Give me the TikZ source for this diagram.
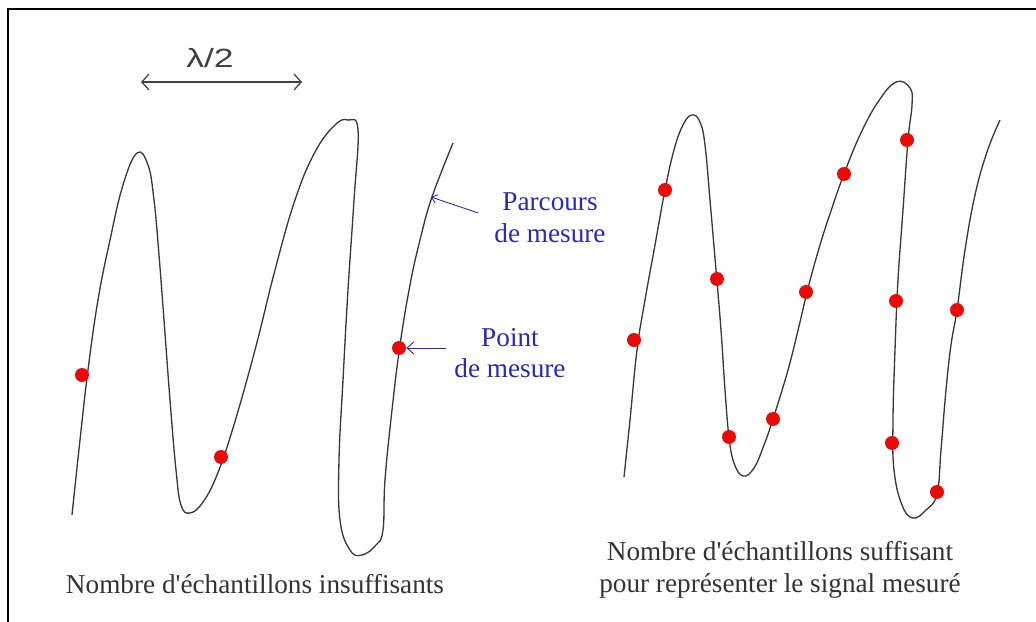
\documentclass[tikz,border=0pt]{standalone}
\usepackage{fontspec}
\setmainfont{Liberation Serif}
\newfontfamily\lamfont{Liberation Sans}
\usepackage{tikz}
\usetikzlibrary{
  arrows.meta,
  positioning
}
\definecolor{notblue}{RGB}{40,40,190}
\definecolor{dotred}{RGB}{235,10,10}

\begin{document}
\begin{tikzpicture}[
  x=0.02cm, y=-0.02cm,
  font=\fontsize{15.5}{18}\selectfont,
  %% ── styles ──────────────────────────────────────────────────────────
  %% Hand-drawn measuring path
  trace/.style={draw=black!78, line width=0.75pt, smooth, tension=0.7},
  %% Red sample points
  dot/.style  ={circle, fill=dotred, inner sep=0pt, minimum size=0.28cm},
  %% Blue annotations
  note/.style ={-{Straight Barb[length=4pt,width=7pt]}, notblue, line width=0.5pt},
  ntxt/.style ={text=notblue, align=center},
  %% Caption under each curve
  captxt/.style={align=center, text=black!80},
]

\useasboundingbox (0,0) rectangle (1036,622);

%% frame (only top and left edges show)
\draw[line width=1.7pt] (8,622) -- (8,9) -- (1036,9);

%% ════════════════════════════════════════════════════════════════════
%% LEFT  (too few samples)
%% ════════════════════════════════════════════════════════════════════

%% half wavelength
\coordinate (hl) at (141,82);
\coordinate (hr) at (302,82);
\draw[{Straight Barb[length=4pt,width=9pt]}-{Straight Barb[length=4pt,width=9pt]},
      black!75, line width=0.7pt] (hl) -- (hr);
\node[font=\lamfont\fontsize{15}{18}\selectfont, text=black!75] (lam) at (210,58)
  {\scalebox{1.35}[1]{λ/2}};

\draw[trace] plot coordinates {
  (72,515) (80,440) (88,370) (98,300) (110,240) (123,185) (137,153)
  (148,165) (154,200) (159,255) (164,320) (170,400) (176,470)
  (181,505) (190,513) (203,502) (217,475) (233,428) (255,350)
  (275,270) (295,200) (315,152) (335,125) (348,120) (358,130)
  (354,200) (348,290) (343,380) (339,460) (340,520) (350,550)
  (362,555) (376,545) (383,530) (385,480) (392,410) (400,345)
  (410,285) (420,240) (432,197) (453,143)};

\foreach \n/\x/\y in {l1/82/375, l2/221/457, l3/399/348}
  \node[dot] (\n) at (\x,\y) {};

%% annotations
\coordinate (pc) at (431,197);
\node[ntxt] (ctxt) at (550,218) {Parcours\\de mesure};
\draw[note, -{Straight Barb[length=3pt,width=5pt]}]
  ([shift={(-10,-5)}]ctxt.west) -- (pc);

\node[ntxt] (ptxt) at (510,353) {Point\\de mesure};
\draw[note] (ptxt.west |- l3) ++(-2,0) -- (l3);

\node[captxt] (capL) at (255,584)
  {Nombre d\textquotesingle échantillons insuffisants};

%% ════════════════════════════════════════════════════════════════════
%% RIGHT  (enough samples)
%% ════════════════════════════════════════════════════════════════════

\draw[trace] plot coordinates {
  (624,477) (630,420) (637,350) (645,300) (655,245) (665,190)
  (674,150) (683,125) (692,115) (700,122) (705,145) (710,200)
  (716,270) (721,330) (725,390) (729,437) (734,463) (743,476)
  (754,468) (764,445) (773,419) (788,370) (800,322) (807,292)
  (820,245) (833,205) (844,174) (860,135) (878,102) (896,82)
  (910,88) (912,105) (908,140) (903,210) (898,280) (895,350)
  (893,420) (894,470) (902,505) (913,518) (926,510) (937,494)
  (941,450) (946,390) (951,345) (957,310) (965,250) (975,195)
  (987,152) (1000,120)};

\foreach \n/\x/\y in {r1/634/340, r2/665/190, r3/717/279, r4/729/437,
                      r5/773/419, r6/806/292, r7/844/174, r8/907/140,
                      r9/896/301, r10/892/443, r11/937/492, r12/957/310}
  \node[dot] (\n) at (\x,\y) {};

\node[captxt] (capR) at (780,570)
  {Nombre d\textquotesingle échantillons suffisant\\pour représenter le signal mesuré};

\end{tikzpicture}
\end{document}
